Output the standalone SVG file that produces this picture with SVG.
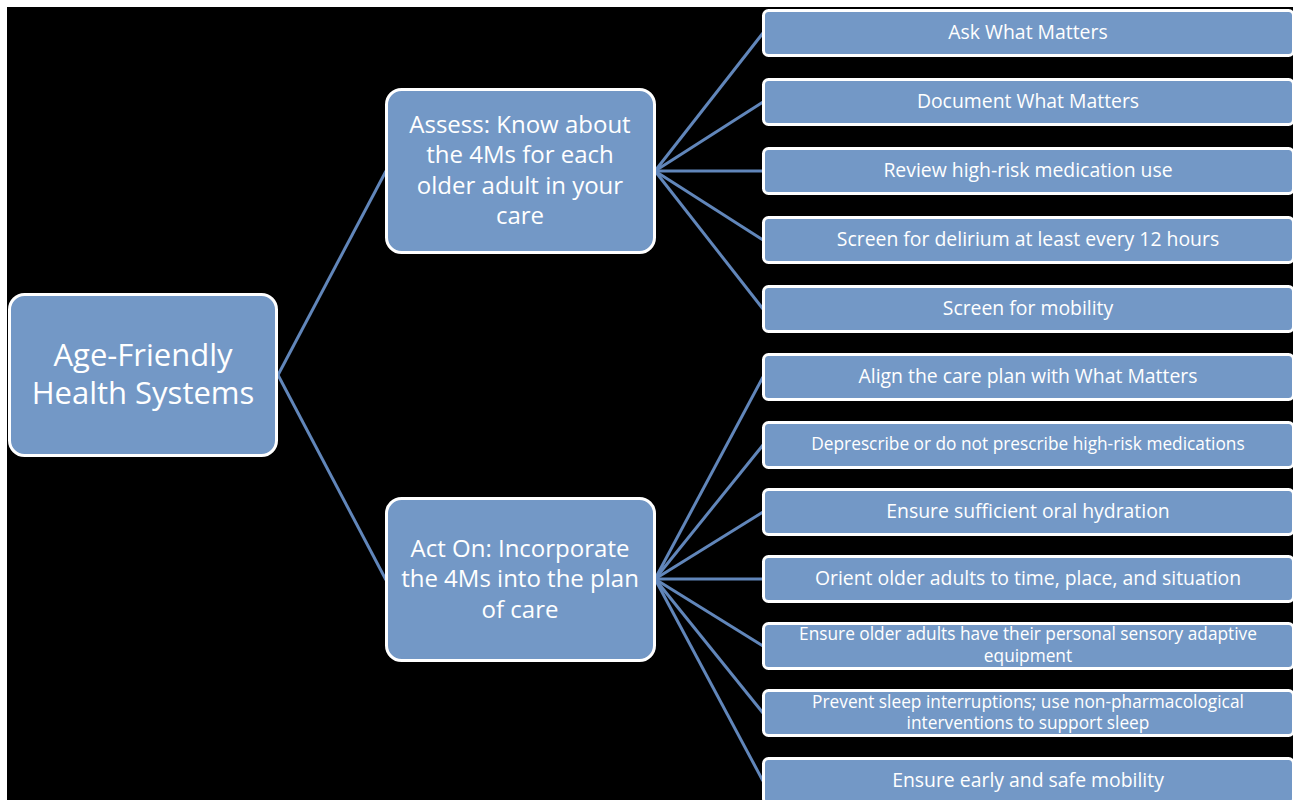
<svg xmlns="http://www.w3.org/2000/svg" width="1297" height="800" viewBox="0 0 1297 800">
  <style>
    .box { fill: #7398c6; stroke: #ffffff; stroke-width: 3; }
    .lbl { fill: #ffffff; font-family: "Open Sans", "Liberation Sans", Arial, sans-serif; text-anchor: middle; }
    .big { font-size: 31px; }
    .mid { font-size: 24px; }
    .leaf { font-size: 19.4px; }
    .small { font-size: 17.3px; }
    .link { stroke: #6186ba; stroke-width: 3; fill: none; }
  </style>

  <!-- page and dark canvas -->
  <rect x="0" y="0" width="1297" height="800" fill="#ffffff"/>
  <rect x="7" y="7" width="1286" height="793" fill="#000000"/>

  <!-- connectors -->
  <g id="connectors">
    <line class="link" x1="278" y1="375" x2="386" y2="171"/>
    <line class="link" x1="278" y1="375" x2="386" y2="580"/>

    <line class="link" x1="655" y1="171" x2="763" y2="33"/>
    <line class="link" x1="655" y1="171" x2="763" y2="102"/>
    <line class="link" x1="655" y1="171" x2="763" y2="171"/>
    <line class="link" x1="655" y1="171" x2="763" y2="240"/>
    <line class="link" x1="655" y1="171" x2="763" y2="309"/>

    <line class="link" x1="655" y1="579" x2="763" y2="377"/>
    <line class="link" x1="655" y1="579" x2="763" y2="445"/>
    <line class="link" x1="655" y1="579" x2="763" y2="512"/>
    <line class="link" x1="655" y1="579" x2="763" y2="579"/>
    <line class="link" x1="655" y1="579" x2="763" y2="646"/>
    <line class="link" x1="655" y1="579" x2="763" y2="713"/>
    <line class="link" x1="655" y1="579" x2="763" y2="781"/>
  </g>

  <!-- root -->
  <g id="root">
    <rect class="box" x="9.5" y="294.5" width="267" height="161" rx="15"/>
    <text class="lbl big" x="143" y="366">Age-Friendly</text>
    <text class="lbl big" x="143" y="404">Health Systems</text>
  </g>

  <!-- branch: assess -->
  <g id="assess">
    <rect class="box" x="386.5" y="89.5" width="268" height="163" rx="15"/>
    <text class="lbl mid" x="520" y="133">Assess: Know about</text>
    <text class="lbl mid" x="520" y="163">the 4Ms for each</text>
    <text class="lbl mid" x="520" y="194">older adult in your</text>
    <text class="lbl mid" x="520" y="224">care</text>
  </g>

  <!-- branch: act on -->
  <g id="act-on">
    <rect class="box" x="386.5" y="498.5" width="268" height="162" rx="15"/>
    <text class="lbl mid" x="520" y="557">Act On: Incorporate</text>
    <text class="lbl mid" x="520" y="587">the 4Ms into the plan</text>
    <text class="lbl mid" x="520" y="618">of care</text>
  </g>

  <!-- assess leaves -->
  <g id="ask-what-matters">
    <rect class="box" x="763.5" y="10.5" width="530" height="45" rx="5"/>
    <text class="lbl leaf" x="1028" y="39">Ask What Matters</text>
  </g>
  <g id="document-what-matters">
    <rect class="box" x="763.5" y="79.5" width="530" height="45" rx="5"/>
    <text class="lbl leaf" x="1028" y="108">Document What Matters</text>
  </g>
  <g id="review-medication">
    <rect class="box" x="763.5" y="148.5" width="530" height="45" rx="5"/>
    <text class="lbl leaf" x="1028" y="177">Review high-risk medication use</text>
  </g>
  <g id="screen-delirium">
    <rect class="box" x="763.5" y="217.5" width="530" height="45" rx="5"/>
    <text class="lbl leaf" x="1028" y="246">Screen for delirium at least every 12 hours</text>
  </g>
  <g id="screen-mobility">
    <rect class="box" x="763.5" y="286.5" width="530" height="45" rx="5"/>
    <text class="lbl leaf" x="1028" y="315">Screen for mobility</text>
  </g>

  <!-- act-on leaves -->
  <g id="align-care-plan">
    <rect class="box" x="763.5" y="354.5" width="530" height="45" rx="5"/>
    <text class="lbl leaf" x="1028" y="383">Align the care plan with What Matters</text>
  </g>
  <g id="deprescribe">
    <rect class="box" x="763.5" y="422.5" width="530" height="45" rx="5"/>
    <text class="lbl small" x="1028" y="450">Deprescribe or do not prescribe high-risk medications</text>
  </g>
  <g id="oral-hydration">
    <rect class="box" x="763.5" y="489.5" width="530" height="45" rx="5"/>
    <text class="lbl leaf" x="1028" y="518">Ensure sufficient oral hydration</text>
  </g>
  <g id="orient">
    <rect class="box" x="763.5" y="556.5" width="530" height="45" rx="5"/>
    <text class="lbl leaf" x="1028" y="585">Orient older adults to time, place, and situation</text>
  </g>
  <g id="sensory-equipment">
    <rect class="box" x="763.5" y="623.5" width="530" height="45" rx="5"/>
    <text class="lbl small" x="1028" y="640">Ensure older adults have their personal sensory adaptive</text>
    <text class="lbl small" x="1028" y="662">equipment</text>
  </g>
  <g id="sleep">
    <rect class="box" x="763.5" y="690.5" width="530" height="45" rx="5"/>
    <text class="lbl small" x="1028" y="708">Prevent sleep interruptions; use non-pharmacological</text>
    <text class="lbl small" x="1028" y="729">interventions to support sleep</text>
  </g>
  <g id="early-mobility">
    <rect class="box" x="763.5" y="758.5" width="530" height="45" rx="5"/>
    <text class="lbl leaf" x="1028" y="787">Ensure early and safe mobility</text>
  </g>
</svg>
